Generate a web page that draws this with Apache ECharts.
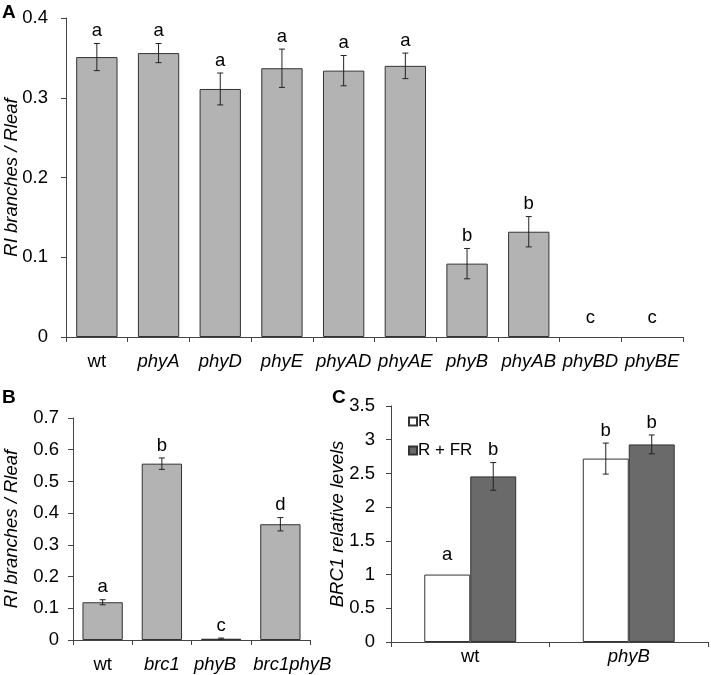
<!DOCTYPE html>
<html><head><meta charset="utf-8">
<script src="https://cdn.jsdelivr.net/npm/echarts@6/dist/echarts.min.js"></script>
<style>html,body{margin:0;padding:0;background:#fff}#c{width:711px;height:675px}</style>
</head><body><div id="c"></div>
<script>
// Panel A
const catA = ['wt','phyA','phyD','phyE','phyAD','phyAE','phyB','phyAB','phyBD','phyBE'];
const valA = [0.351,0.356,0.311,0.337,0.334,0.340,0.092,0.132,0,0];
const errA = [0.017,0.012,0.020,0.024,0.019,0.016,0.019,0.019,0,0];
const letA = ['a','a','a','a','a','a','b','b','c','c'];
const ticksA = [0,0.1,0.2,0.3,0.4];
// Panel B
const catB = ['wt','brc1','phyB','brc1phyB'];
const valB = [0.119,0.556,0.004,0.365];
const errB = [0.008,0.018,0.002,0.021];
const letB = ['a','b','c','d'];
const ticksB = [0,0.1,0.2,0.3,0.4,0.5,0.6,0.7];
// Panel C
const catC = ['wt','phyB'];
const seriesNamesC = ['R','R + FR'];
const valCR = [1.0,2.72];
const errCR = [0,0.23];
const letCR = ['a','b'];
const valCFR = [2.456,2.93];
const errCFR = [0.205,0.14];
const letCFR = ['b','b'];
const ticksC = [0,0.5,1,1.5,2,2.5,3,3.5];

const FONT = '"Liberation Sans", Arial, sans-serif';
const AX = '#444';
const FS = 18.5;

const rich = {
  n:{fontSize:FS,fontFamily:FONT,color:'#000'},
  i:{fontSize:FS,fontFamily:FONT,color:'#000',fontStyle:'italic'},
  il:{fontSize:FS,fontFamily:FONT,color:'#000',fontStyle:'italic',padding:[0,12,0,0]},
  ir:{fontSize:FS,fontFamily:FONT,color:'#000',fontStyle:'italic',padding:[0,0,0,24]}
};
function catLabel(v){ return v === 'wt' ? '{n|' + v + '}' : '{i|' + v + '}'; }
// panel B: the last two labels are nudged apart so they do not touch
function catLabelB(v, idx){
  if (v === 'wt') return '{n|' + v + '}';
  if (idx === catB.length - 2) return '{il|' + v + '}';
  if (idx === catB.length - 1) return '{ir|' + v + '}';
  return '{i|' + v + '}';
}

function xAx(idx, cats, margin, fmt){
  return { type:'category', gridIndex:idx, data:cats,
    axisLine:{lineStyle:{color:AX,width:1}},
    axisTick:{show:true,length:5,lineStyle:{color:AX}},
    axisLabel:{margin:margin,interval:0,formatter:fmt,rich:rich} };
}
function yAx(idx, ticks, name, gap, margin){
  return { type:'value', gridIndex:idx, min:ticks[0], max:ticks[ticks.length-1], interval:ticks[1]-ticks[0],
    name:name, nameLocation:'middle', nameGap:gap, nameMoveOverlap:false,
    nameTextStyle:{fontSize:FS,fontStyle:'italic',fontFamily:FONT,color:'#000'},
    splitLine:{show:false},
    axisLine:{show:true,lineStyle:{color:AX,width:1}},
    axisTick:{show:true,length:5,lineStyle:{color:AX}},
    axisLabel:{margin:margin,fontSize:FS,fontFamily:FONT,color:'#000'} };
}

function errRender(vals, errs, lets, offFn){
  return function(params, api){
    const i = api.value(0);
    const v = vals[i], e = errs[i];
    const band = api.size([1,0])[0];
    const c = api.coord([i, v]);
    const x = c[0] + offFn(band);
    const top = api.coord([i, v+e])[1];
    const bot = api.coord([i, v-e])[1];
    const ls = {stroke:'#222', lineWidth:1};
    const ch = [];
    if (e > 0) {
      ch.push({type:'line', shape:{x1:x,y1:top,x2:x,y2:bot}, style:ls});
      ch.push({type:'line', shape:{x1:x-3,y1:top,x2:x+3,y2:top}, style:ls});
      ch.push({type:'line', shape:{x1:x-3,y1:bot,x2:x+3,y2:bot}, style:ls});
    }
    const gap = e > 0 ? 3 : 10;
    ch.push({type:'text', style:{text:lets[i], x:x, y:top-gap, align:'center', verticalAlign:'bottom',
      fontSize:FS, fontFamily:FONT, fill:'#000'}});
    return {type:'group', children:ch};
  };
}

const barA = {color:'#b3b3b3', borderColor:'#333', borderWidth:1};
function barData(vals){ return vals.map(v => v === 0 ? {value:v, itemStyle:{borderWidth:0}} : v); }
const chart = echarts.init(document.getElementById('c'), null, {renderer:'canvas'});
const gapC = 0.42;
const tStyle = {fontSize:19,fontWeight:'bold',fontFamily:FONT,color:'#000'};
chart.setOption({
  animation:false,
  textStyle:{fontFamily:FONT},
  title:[
    {text:'A', left:2, top:3, padding:0, textStyle:tStyle},
    {text:'B', left:2, top:388, padding:0, textStyle:tStyle},
    {text:'C', left:332, top:388, padding:0, textStyle:tStyle}
  ],
  legend:{data:seriesNamesC, orient:'vertical', left:403, top:408, itemWidth:8, itemHeight:8, itemGap:12,
    icon:'rect', textStyle:{fontSize:17,fontFamily:FONT,color:'#000',padding:[0,0,0,-4]}},
  grid:[
    {left:66, top:18, right:28, bottom:338, outerBoundsMode:'none', containLabel:false},
    {left:73, top:418, right:401, bottom:35, outerBoundsMode:'none', containLabel:false},
    {left:391, top:406, right:3, bottom:33, outerBoundsMode:'none', containLabel:false}
  ],
  xAxis:[ xAx(0,catA,15,catLabel), xAx(1,catB,15,catLabelB), xAx(2,catC,5,catLabel) ],
  yAxis:[ yAx(0,ticksA,'RI branches / Rleaf',44.5,18),
          yAx(1,ticksB,'RI branches / Rleaf',52,14),
          yAx(2,ticksC,'BRC1 relative levels',44,16) ],
  series:[
    {type:'bar', name:'A', xAxisIndex:0, yAxisIndex:0, data:barData(valA), barCategoryGap:'33%', itemStyle:barA},
    {type:'custom', xAxisIndex:0, yAxisIndex:0, z:5, data:catA.map((c,i)=>[i, valA[i]+errA[i]]),
      encode:{x:0,y:1}, renderItem:errRender(valA,errA,letA,b=>0)},
    {type:'bar', name:'B', xAxisIndex:1, yAxisIndex:1, data:barData(valB), barCategoryGap:'32%', itemStyle:barA},
    {type:'custom', xAxisIndex:1, yAxisIndex:1, z:5, data:catB.map((c,i)=>[i, valB[i]+errB[i]]),
      encode:{x:0,y:1}, renderItem:errRender(valB,errB,letB,b=>0)},
    {type:'bar', name:seriesNamesC[0], xAxisIndex:2, yAxisIndex:2, data:valCR, barGap:'0%', barCategoryGap:'42%',
      itemStyle:{color:'#ffffff', borderColor:'#333', borderWidth:1}},
    {type:'bar', name:seriesNamesC[1], xAxisIndex:2, yAxisIndex:2, data:valCFR, barGap:'0%', barCategoryGap:'42%',
      itemStyle:{color:'#6a6a6a', borderColor:'#333', borderWidth:1}},
    {type:'custom', xAxisIndex:2, yAxisIndex:2, z:5, data:catC.map((c,i)=>[i, valCR[i]+errCR[i]]),
      encode:{x:0,y:1}, renderItem:errRender(valCR,errCR,letCR,b=>-b*(1-gapC)/4)},
    {type:'custom', xAxisIndex:2, yAxisIndex:2, z:5, data:catC.map((c,i)=>[i, valCFR[i]+errCFR[i]]),
      encode:{x:0,y:1}, renderItem:errRender(valCFR,errCFR,letCFR,b=>b*(1-gapC)/4)}
  ]
});
</script></body></html>
